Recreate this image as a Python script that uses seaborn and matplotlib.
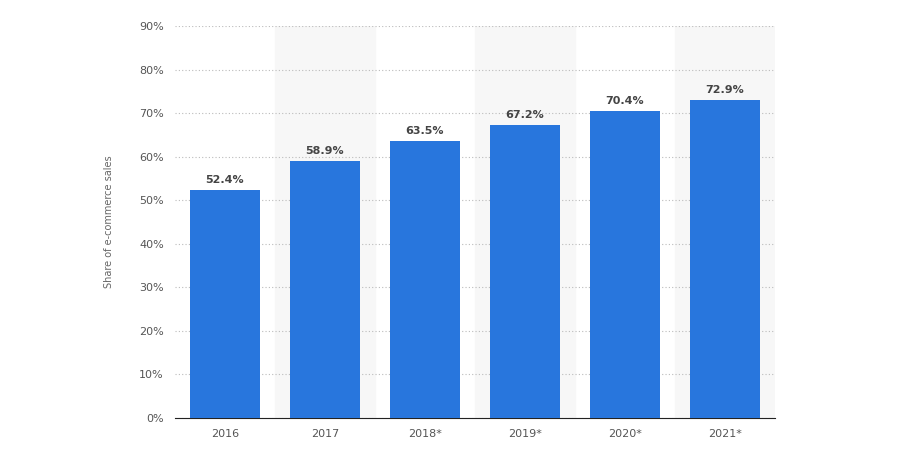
import matplotlib
matplotlib.use("Agg")
import matplotlib.pyplot as plt
import seaborn as sns
import pandas as pd

years = ["2016", "2017", "2018*", "2019*", "2020*", "2021*"]
shares = [52.4, 58.9, 63.5, 67.2, 70.4, 72.9]
yticks = [0, 10, 20, 30, 40, 50, 60, 70, 80, 90]

df = pd.DataFrame({"year": years, "share": shares})

fig = plt.figure(figsize=(9, 4.5), dpi=100)
ax = fig.add_axes([175/900, 1-418/450, 600/900, (418-26)/450])
for i in range(len(years)):
    if i % 2 == 1:
        ax.axvspan(i-0.5, i+0.5, color="#f7f7f7", zorder=0)
sns.barplot(data=df, x="year", y="share", color="#2876dd", width=0.7, ax=ax, zorder=3, saturation=1)
for i, v in enumerate(shares):
    ax.text(i, v + 1.2, f"{v}%", ha="center", va="bottom", fontsize=8, fontweight="bold", color="#444444")
ax.set_ylim(0, 90)
ax.set_xlim(-0.5, len(years)-0.5)
ax.set_yticks(yticks)
ax.set_yticklabels([f"{t}%" for t in yticks])
ax.yaxis.grid(True, linestyle=(0, (1, 2)), color="#bbbbbb", linewidth=0.8)
ax.set_axisbelow(True)
for s in ["top", "right", "left"]:
    ax.spines[s].set_visible(False)
ax.spines["bottom"].set_color("#222222")
ax.tick_params(axis="both", length=0, labelsize=8, colors="#555555", pad=8)
ax.set_xlabel("")
ax.set_ylabel("Share of e-commerce sales", fontsize=7, color="#666666", labelpad=18)
fig.savefig("out.png", dpi=100)
